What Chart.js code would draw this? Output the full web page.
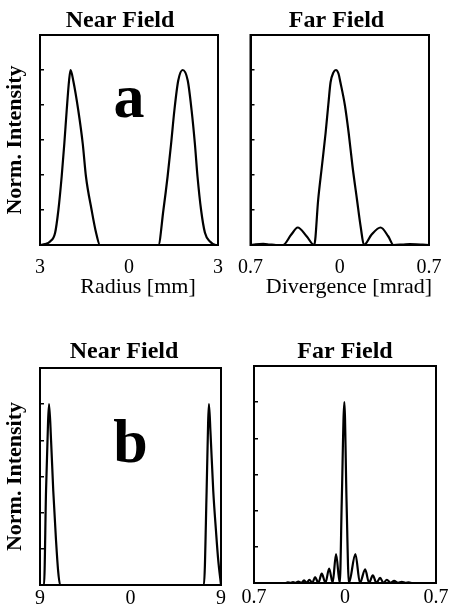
<!DOCTYPE html>
<html>
<head>
<meta charset="utf-8">
<script src="https://cdn.jsdelivr.net/npm/chart.js@4.4.0/dist/chart.umd.min.js"></script>
<style>
body { margin: 0; background: #fff; }
#wrap { position: relative; width: 456px; height: 612px; overflow: hidden; }
canvas { position: absolute; }
</style>
</head>
<body>
<div id="wrap">
<canvas id="nearA" width="240" height="300" style="left:0;top:0"></canvas>
<canvas id="farA" width="229" height="300" style="left:227px;top:0"></canvas>
<canvas id="nearB" width="248" height="312" style="left:0;top:300px"></canvas>
<canvas id="farB" width="222" height="312" style="left:234px;top:300px"></canvas>
</div>
<script>
// case a : near field (radius in mm) and far field (divergence in mrad)
const nearA_x = [-3, -2.83, -2.66, -2.49, -2.38, -2.27, -2.18, -2.1, -2.02, -1.97, -1.88, -1.71, -1.56, -1.45, -1.26, -1.11, -0.98,
  0.99, 1.16, 1.3, 1.42, 1.53, 1.66, 1.81, 1.98, 2.11, 2.22, 2.31, 2.43, 2.56, 2.73, 2.93, 3];
const nearA_y = [0, 0.005, 0.02, 0.07, 0.2, 0.39, 0.58, 0.77, 0.94, 1.0, 0.94, 0.77, 0.58, 0.39, 0.2, 0.07, 0,
  0, 0.2, 0.39, 0.58, 0.77, 0.94, 1.0, 0.94, 0.77, 0.58, 0.39, 0.2, 0.07, 0.02, 0, 0];

const farA_x = [-0.7, -0.66, -0.6, -0.55, -0.5, -0.446, -0.38, -0.33, -0.26, -0.2, -0.169, -0.14, -0.111, -0.09, -0.072, -0.05, -0.03,
  -0.01, 0.005, 0.04, 0.07, 0.1, 0.135, 0.165, 0.19, 0.25, 0.32, 0.38, 0.422, 0.5, 0.55, 0.6, 0.65, 0.7];
const farA_y = [0, 0.004, 0.006, 0.003, 0, 0, 0.06, 0.1, 0.05, 0, 0.26, 0.45, 0.64, 0.8, 0.93, 0.985, 1.0,
  0.98, 0.93, 0.8, 0.64, 0.45, 0.26, 0.1, 0, 0.06, 0.1, 0.05, 0, 0.003, 0.005, 0.004, 0.002, 0];

// case b
const nearB_x = [-9, -8.6, -8.4, -8.2, -8.1, -7.9, -7.68, -7.41, -7.2, -7.0, 7.3, 7.57, 7.72, 7.8, 7.95, 8.23, 8.5, 8.72, 9];
const nearB_y = [0, 0, 0.52, 0.9, 1.0, 0.8, 0.52, 0.25, 0.08, 0, 0, 0.52, 0.9, 1.0, 0.85, 0.52, 0.3, 0.14, 0];

const farB_x = [-0.7, -0.46, -0.44, -0.42, -0.4, -0.38, -0.359, -0.337, -0.315, -0.295, -0.274, -0.252, -0.23, -0.205,
  -0.179, -0.15, -0.122, -0.095, -0.069, -0.04, -0.025, -0.005, 0.012, 0.03, 0.08, 0.115, 0.155, 0.185, 0.214, 0.242,
  0.27, 0.296, 0.322, 0.35, 0.378, 0.408, 0.437, 0.465, 0.49, 0.52, 0.7];
const farB_y = [0, 0, 0.003, 0.001, 0.005, 0.001, 0.008, 0.001, 0.014, 0.001, 0.018, 0.001, 0.032, 0.001,
  0.052, 0.001, 0.08, 0.001, 0.16, 0, 0.45, 1.0, 0.45, 0, 0.16, 0.001, 0.075, 0.001, 0.042, 0.001,
  0.028, 0.001, 0.018, 0.001, 0.012, 0.001, 0.006, 0.001, 0.003, 0, 0];

const nearTicksA = [-3, 0, 3];
const nearLabelsA = ['3', '0', '3'];
const nearTicksB = [-9, 0, 9];
const nearLabelsB = ['9', '0', '9'];
const farTicks = [-0.7, 0, 0.7];
const farLabels = ['0.7', '0', '0.7'];

const SERIF = '"Liberation Serif", "Times New Roman", serif';
Chart.defaults.color = '#000';
Chart.defaults.font.family = SERIF;

// box round the plot area, panel heading, x caption and the big panel letter
const framePlugin = {
  id: 'frame',
  afterDraw(chart, args, o) {
    const ctx = chart.ctx;
    const a = chart.chartArea;
    ctx.save();
    ctx.strokeStyle = '#000';
    ctx.lineWidth = 2;
    ctx.strokeRect(a.left, a.top, a.right - a.left, a.bottom - a.top);
    ctx.fillStyle = '#000';
    ctx.textAlign = 'center';
    ctx.textBaseline = 'alphabetic';
    ctx.font = 'bold 24px ' + SERIF;
    ctx.fillText(o.title, o.titlePos[0], o.titlePos[1]);
    if (o.xTitle) {
      ctx.font = '22px ' + SERIF;
      ctx.fillText(o.xTitle, o.xTitlePos[0], o.xTitlePos[1]);
    }
    if (o.letter) {
      ctx.font = 'bold 62px ' + SERIF;
      ctx.fillText(o.letter, chart.scales.x.getPixelForValue(o.at[0]), chart.scales.y.getPixelForValue(o.at[1]));
    }
    ctx.restore();
  }
};

function toPoints(xs, ys) {
  return xs.map((x, i) => ({x: x, y: ys[i]}));
}

function makeChart(id, cfg) {
  return new Chart(document.getElementById(id), {
    type: 'line',
    data: {
      datasets: [{
        data: toPoints(cfg.xs, cfg.ys),
        borderColor: '#000',
        borderWidth: 2.2,
        pointRadius: 0,
        fill: false,
        cubicInterpolationMode: 'monotone'
      }]
    },
    options: {
      responsive: false,
      animation: false,
      layout: {padding: {left: 0, right: cfg.padRight, top: cfg.padTop, bottom: 0}},
      plugins: {
        legend: {display: false},
        tooltip: {enabled: false},
        title: {display: false},
        frame: {
          title: cfg.title, titlePos: cfg.titlePos,
          xTitle: cfg.xTitle, xTitlePos: cfg.xTitlePos,
          letter: cfg.letter, at: cfg.letterAt
        }
      },
      scales: {
        x: {
          type: 'linear',
          min: cfg.ticks[0],
          max: cfg.ticks[2],
          afterFit: s => { s.height = cfg.xHeight; },
          afterBuildTicks: s => { s.ticks = cfg.ticks.map(v => ({value: v})); },
          ticks: {
            autoSkip: false,
            maxRotation: 0,
            padding: cfg.tickPad,
            font: {family: SERIF, size: 20},
            callback: (v, i) => cfg.labels[i]
          },
          grid: {display: false, drawTicks: false},
          border: {display: true, color: '#000', width: 2}
        },
        y: {
          min: 0,
          max: 1.2,
          afterFit: s => { s.width = cfg.yWidth; },
          ticks: {display: false, stepSize: 0.2},
          grid: {drawOnChartArea: false, drawTicks: true, tickLength: -4, color: '#000', lineWidth: 1.5},
          border: {display: true, color: '#000', width: 2},
          title: {
            display: !!cfg.yTitle,
            text: cfg.yTitle,
            font: {family: SERIF, size: 22, weight: 'bold'},
            padding: {top: 2, bottom: 0}
          }
        }
      }
    },
    plugins: [framePlugin]
  });
}

makeChart('nearA', {
  xs: nearA_x, ys: nearA_y, ticks: nearTicksA, labels: nearLabelsA,
  title: 'Near Field', titlePos: [120, 26.5],
  xTitle: 'Radius [mm]', xTitlePos: [138, 292.5], yTitle: 'Norm. Intensity',
  yWidth: 40, padRight: 22, padTop: 35, xHeight: 55, tickPad: 11,
  letter: 'a', letterAt: [0, 0.73]
});

makeChart('farA', {
  xs: farA_x, ys: farA_y, ticks: farTicks, labels: farLabels,
  title: 'Far Field', titlePos: [109.5, 26.5],
  xTitle: 'Divergence [mrad]', xTitlePos: [122, 292.5], yTitle: '',
  yWidth: 22, padRight: 27, padTop: 35, xHeight: 55, tickPad: 11
});

makeChart('nearB', {
  xs: nearB_x, ys: nearB_y, ticks: nearTicksB, labels: nearLabelsB,
  title: 'Near Field', titlePos: [124, 58.3],
  xTitle: '', yTitle: 'Norm. Intensity',
  yWidth: 40, padRight: 27, padTop: 68, xHeight: 27, tickPad: 2,
  letter: 'b', letterAt: [0, 0.68]
});

makeChart('farB', {
  xs: farB_x, ys: farB_y, ticks: farTicks, labels: farLabels,
  title: 'Far Field', titlePos: [111, 58.3],
  xTitle: '', yTitle: '',
  yWidth: 20, padRight: 20, padTop: 66, xHeight: 29, tickPad: 3
});
</script>
</body>
</html>
